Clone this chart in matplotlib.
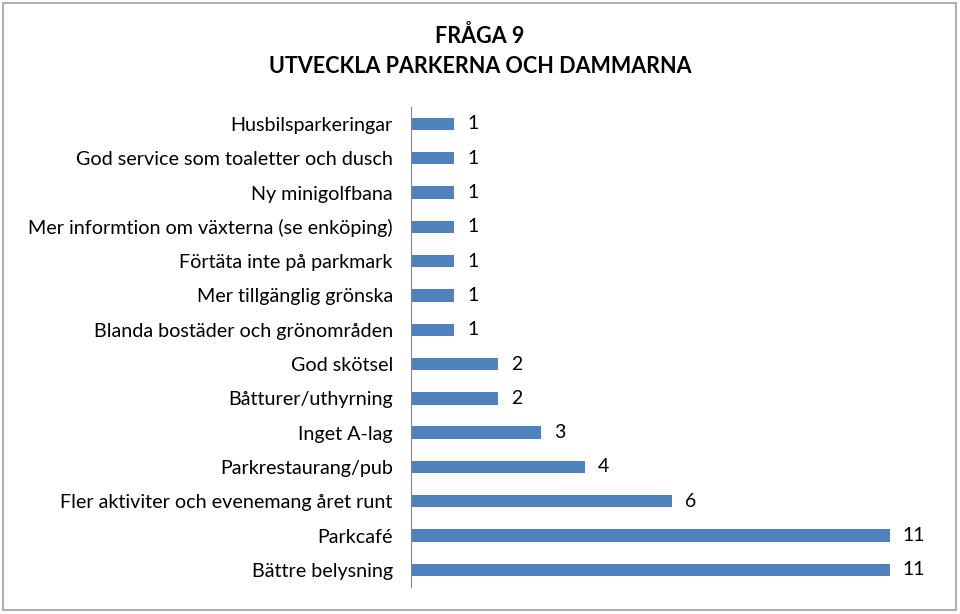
import matplotlib.pyplot as plt
from matplotlib.patches import Rectangle

# svar på fråga 9, uppifrån och ned som i diagrammet
kategorier = [
    "Husbilsparkeringar",
    "God service som toaletter och dusch",
    "Ny minigolfbana",
    "Mer informtion om växterna (se enköping)",
    "Förtäta inte på parkmark",
    "Mer tillgänglig grönska",
    "Blanda bostäder och grönområden",
    "God skötsel",
    "Båtturer/uthyrning",
    "Inget A-lag",
    "Parkrestaurang/pub",
    "Fler aktiviter och evenemang året runt",
    "Parkcafé",
    "Bättre belysning",
]
antal = [1, 1, 1, 1, 1, 1, 1, 2, 2, 3, 4, 6, 11, 11]

plt.rcParams['font.family'] = ['Lato', 'DejaVu Sans']

fig = plt.figure(figsize=(9.6, 6.14), dpi=100)
fig.patches.append(Rectangle((0.003, 0.006), 0.993, 0.989, transform=fig.transFigure,
                             fill=False, edgecolor="#b0b0b0", linewidth=1.5))

ax = fig.add_axes([0.428, 0.044, 0.544, 0.782])
y = list(range(len(kategorier)))
ax.barh(y, antal, height=0.36, color="#4F81BD")
for yi, v in zip(y, antal):
    ax.annotate(str(v), (v, yi), xytext=(9.4, 0), textcoords="offset points",
                va="center", ha="left", fontsize=14, color="black")

ax.set_yticks(y)
ax.set_yticklabels(kategorier, fontsize=14.2)
ax.tick_params(axis="y", length=0, pad=13)
ax.set_xticks([])
ax.set_xlim(0, 12)
ax.set_ylim(len(kategorier) - 0.5, -0.5)
for s in ["top", "right", "bottom"]:
    ax.spines[s].set_visible(False)
ax.spines["left"].set_color("#868686")

fig.text(0.5, 0.941, "FRÅGA 9", ha="center", va="center", fontsize=15.5, fontweight="bold")
fig.text(0.5, 0.891, "UTVECKLA PARKERNA OCH DAMMARNA", ha="center", va="center",
         fontsize=15.5, fontweight="bold")

fig.savefig("out.png", dpi=100)
